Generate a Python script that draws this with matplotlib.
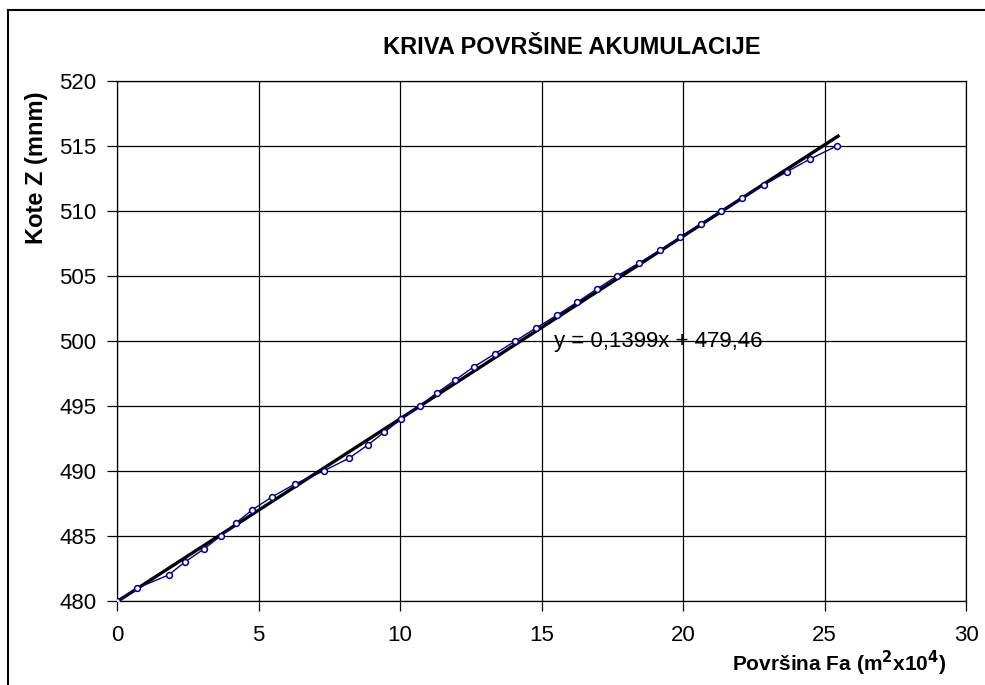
import numpy as np
import matplotlib.pyplot as plt
from matplotlib.patches import Rectangle

plt.rcParams['font.family'] = ['Liberation Sans', 'DejaVu Sans']

# podaci ocitani sa grafika
povrsina = [0.0, 0.72, 1.82, 2.4, 3.07, 3.66, 4.2, 4.77, 5.47, 6.29,
            7.3, 8.21, 8.86, 9.45, 10.05, 10.69, 11.3, 11.95, 12.6, 13.34,
            14.08, 14.8, 15.56, 16.27, 16.96, 17.67, 18.45, 19.2, 19.91, 20.62,
            21.33, 22.08, 22.85, 23.66, 24.49, 25.43]
kote = list(range(480, 516))
x_ticks = [0, 5, 10, 15, 20, 25, 30]
y_ticks = [480, 485, 490, 495, 500, 505, 510, 515, 520]
jednacina = 'y = 0,1399x + 479,46'

fig = plt.figure(figsize=(9.85, 6.85), dpi=100)
ax = fig.add_axes([117 / 985, 1 - 601 / 685, (966 - 117) / 985, (601 - 81) / 685])

# linearni trend
k, n = np.polyfit(povrsina, kote, 1)
xt = np.array([0, max(povrsina) + 0.05])
ax.plot(xt, k * xt + n, color='black', lw=2.4, zorder=3)

ax.plot(povrsina, kote, color='#000080', lw=1.0, marker='o', ms=4.2,
        mfc='white', mec='#000080', mew=1.1, zorder=4)

ax.set_xlim(0, 30)
ax.set_ylim(480, 520)
ax.set_xticks(x_ticks)
ax.set_yticks(y_ticks)
ax.grid(True, color='black', lw=0.9)
ax.set_axisbelow(True)
ax.tick_params(labelsize=16, length=7, width=0.9, direction='out')
ax.tick_params(axis='x', pad=10)
ax.tick_params(axis='y', pad=8)
for s in ax.spines.values():
    s.set_linewidth(0.9)

ax.text(15.45, 500, jednacina, fontsize=16, va='center', ha='left')

fig.text(572 / 985, 1 - 47 / 685, 'KRIVA POVRŠINE AKUMULACIJE', fontsize=17,
         fontweight='bold', ha='center', va='center')
fig.text(37 / 985, 1 - 168 / 685, 'Kote Z (mnm)', fontsize=17, fontweight='bold',
         rotation=90, ha='center', va='center')
fig.text(946 / 985, 1 - 663 / 685, 'Površina Fa (m$^\\mathbf{2}$x10$^\\mathbf{4}$)',
         fontsize=15, fontweight='bold', ha='right', va='center')

# okvir grafika
fig.patches.append(Rectangle((8 / 985, -0.1), 1.2, 1 - 9.5 / 685 + 0.1,
                             transform=fig.transFigure, fill=False,
                             edgecolor='black', lw=1.5))

fig.savefig('out.png', dpi=100)
